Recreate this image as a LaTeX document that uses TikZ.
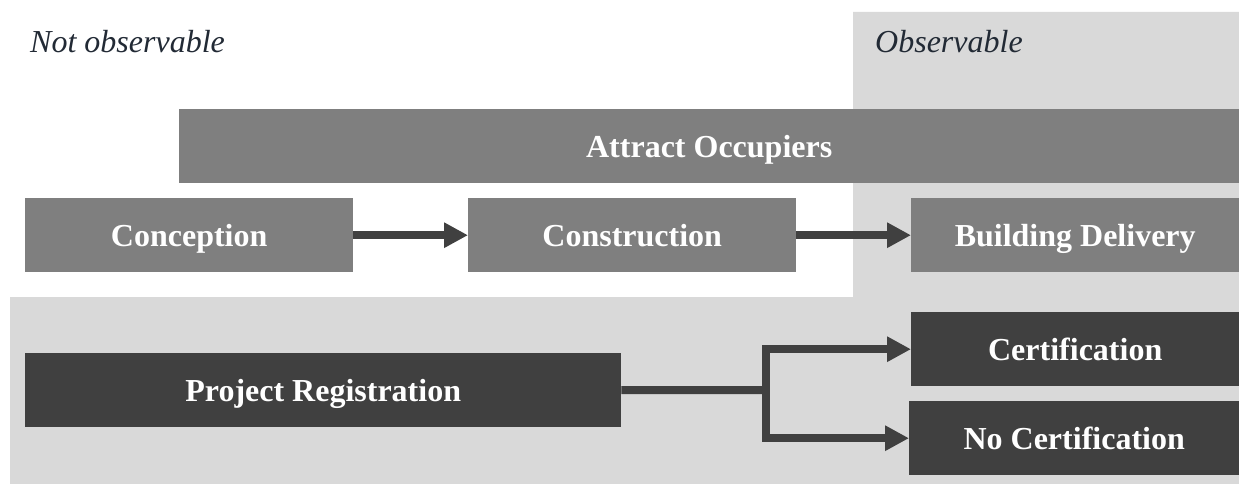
\documentclass[tikz,border=0pt]{standalone}
\usepackage{fontspec}
\setmainfont{Liberation Serif}
\usetikzlibrary{arrows.meta}
\definecolor{bggray}{RGB}{217,217,217}
\definecolor{midgray}{RGB}{127,127,127}
\definecolor{darkgray}{RGB}{64,64,64}
\definecolor{labeltext}{RGB}{34,42,53}
\tikzset{
  boxbase/.style={inner sep=0pt, anchor=north west, text=white,
    font=\fontsize{32pt}{38pt}\selectfont\bfseries, text height=22pt, text depth=0pt},
  midbox/.style={boxbase, fill=midgray},
  darkbox/.style={boxbase, fill=darkgray},
  zonelabel/.style={anchor=base west, text=labeltext, inner sep=0pt,
    font=\fontsize{32pt}{38pt}\selectfont\itshape},
  conn/.style={draw=darkgray, line width=8pt},
  connarrow/.style={conn, -{Triangle[length=24pt,width=24pt]}}
}
\begin{document}
\begin{tikzpicture}[x=1pt,y=-1pt]
\useasboundingbox (0,0) rectangle (1239,484);
\begin{scope}
\clip (0,0) rectangle (1239,484);
% observable zone (L-shape)
\fill[bggray] (853,12) -- (1239,12) -- (1239,484) -- (10,484) -- (10,297) -- (853,297) -- cycle;

\node[zonelabel] (notobs) at (30,53) {Not observable};
\node[zonelabel] (obs) at (875,53) {Observable};

\node[midbox, minimum width=1060pt, minimum height=74pt] (attract) at (179,109) {Attract Occupiers};
\node[midbox, minimum width=328pt, minimum height=74pt] (conc) at (25,198) {Conception};
\node[midbox, minimum width=328pt, minimum height=74pt] (constr) at (468,198) {Construction};
\node[midbox, minimum width=328pt, minimum height=74pt] (deliv) at (911,198) {Building Delivery};

\node[darkbox, minimum width=596pt, minimum height=74pt] (reg) at (25,353) {Project Registration};
\node[darkbox, minimum width=328pt, minimum height=74pt] (cert) at (911,312) {Certification};
\node[darkbox, minimum width=330pt, minimum height=74pt] (nocert) at (909,401) {No Certification};

\draw[connarrow] (conc.east) -- (constr.west);
\draw[connarrow] (constr.east) -- (deliv.west);

\coordinate (j) at (766,390);
\draw[conn] (reg.east) -- (j);
\draw[connarrow] (j) |- (cert.west);
\draw[connarrow] (j) |- (nocert.west);
\end{scope}
\end{tikzpicture}
\end{document}
